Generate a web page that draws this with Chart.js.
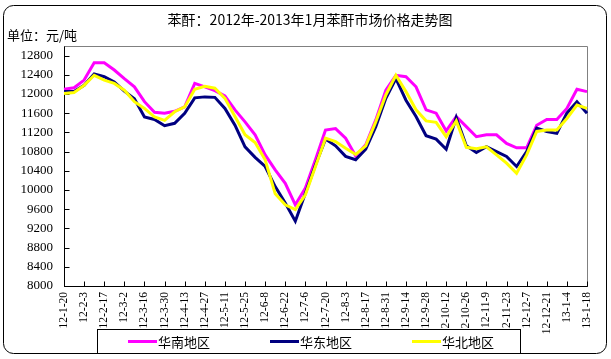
<!DOCTYPE html>
<html>
<head>
<meta charset="utf-8">
<script src="https://cdn.jsdelivr.net/npm/chart.js@4"></script>
<style>
  html, body { margin: 0; padding: 0; background: #fff; }
  #wrap { width: 611px; height: 359px; position: relative; }
</style>
</head>
<body>
<div id="wrap"><canvas id="chart"></canvas></div>
<script>
const title = '苯酐：2012年-2013年1月苯酐市场价格走势图';
const unitLabel = '单位：元/吨';

// weekly samples, labels shown every second week
const dates = ['12-1-20','12-1-27','12-2-3','12-2-10','12-2-17','12-2-24','12-3-2','12-3-9','12-3-16','12-3-23',
  '12-3-30','12-4-6','12-4-13','12-4-20','12-4-27','12-5-4','12-5-11','12-5-18','12-5-25','12-6-1',
  '12-6-8','12-6-15','12-6-22','12-6-29','12-7-6','12-7-13','12-7-20','12-7-27','12-8-3','12-8-10',
  '12-8-17','12-8-24','12-8-31','12-9-7','12-9-14','12-9-21','12-9-28','12-10-5','12-10-12','12-10-19',
  '12-10-26','12-11-2','12-11-9','12-11-16','12-11-23','12-11-30','12-12-7','12-12-14','12-12-21','12-12-28',
  '13-1-4','13-1-11','13-1-18'];

const seriesNames = ['华南地区', '华东地区', '华北地区'];
const seriesColors = ['#ff00ff', '#000080', '#ffff00'];

const south = [12100,12130,12290,12650,12650,12500,12320,12150,11840,11620,
  11600,11640,11730,12220,12150,12070,11960,11670,11420,11150,
  10730,10420,10140,9690,10040,10630,11250,11280,11080,10710,
  10940,11460,12080,12390,12360,12150,11670,11600,11230,11530,
  11320,11110,11150,11150,10970,10880,10880,11350,11470,11470,
  11700,12100,12050];
const east = [12050,12050,12180,12420,12360,12250,12060,11900,11520,11470,
  11340,11390,11600,11920,11940,11930,11700,11350,10900,10680,
  10490,10070,9730,9350,9930,10520,11060,10920,10700,10630,
  10850,11320,11910,12320,11870,11530,11130,11060,10850,11510,
  10920,10780,10900,10800,10700,10490,10800,11290,11220,11180,
  11600,11840,11600];
const north = [12010,12030,12180,12390,12290,12220,12080,11840,11700,11520,
  11450,11630,11730,12100,12160,12120,11910,11530,11150,10990,
  10630,9920,9690,9590,9900,10490,11080,11010,10870,10740,
  10920,11420,11980,12390,12050,11670,11440,11410,11110,11440,
  10890,10860,10900,10730,10560,10350,10730,11220,11250,11250,
  11490,11770,11700];

const yTicks = [8000,8400,8800,9200,9600,10000,10400,10800,11200,11600,12000,12400,12800];
const yMin = 8000, yMax = 13000;

const cjk = '"Noto Sans CJK SC", sans-serif';

// plot frame, inside tick marks, title, legend box and outer border
const decor = {
  id: 'decor',
  beforeDatasetsDraw(chart) {
    const { ctx, chartArea: a, scales: { x, y } } = chart;
    const L = Math.round(a.left) + 0.5, R = Math.round(a.right) + 0.5;
    const T = Math.round(a.top) + 0.5, B = Math.round(a.bottom) + 0.5;
    ctx.save();
    ctx.lineWidth = 1;
    ctx.strokeStyle = '#808080';
    ctx.beginPath();
    ctx.moveTo(L, T); ctx.lineTo(R, T); ctx.lineTo(R, B);
    ctx.stroke();
    ctx.strokeStyle = '#000';
    ctx.beginPath();
    y.ticks.forEach(t => {
      const py = Math.round(y.getPixelForValue(t.value)) + 0.5;
      ctx.moveTo(L, py); ctx.lineTo(L + 5, py);
    });
    x.ticks.forEach((t, i) => {
      if (i % 2) return;
      const px = Math.round(x.getPixelForValue(i)) + 0.5;
      ctx.moveTo(px, B); ctx.lineTo(px, B - 5);
    });
    ctx.stroke();
    ctx.restore();
  },
  afterDraw(chart) {
    const { ctx } = chart;
    ctx.save();
    ctx.fillStyle = '#000';
    ctx.textBaseline = 'middle';
    ctx.font = '14px ' + cjk;
    ctx.textAlign = 'center';
    ctx.fillText(title, 310, 20);
    ctx.font = '13px ' + cjk;
    ctx.textAlign = 'left';
    ctx.fillText(unitLabel, 7, 35);

    // legend box
    ctx.fillStyle = '#fff';
    ctx.fillRect(97.5, 329.5, 423, 24);
    ctx.strokeStyle = '#000';
    ctx.lineWidth = 1;
    ctx.strokeRect(97.5, 329.5, 423, 24);
    const items = [128, 270, 412];
    chart.data.datasets.forEach((ds, i) => {
      const lx = items[i];
      ctx.strokeStyle = ds.borderColor;
      ctx.lineWidth = 3;
      ctx.beginPath();
      ctx.moveTo(lx, 341.5); ctx.lineTo(lx + 29, 341.5);
      ctx.stroke();
      ctx.fillStyle = '#000';
      ctx.font = '13px ' + cjk;
      ctx.fillText(ds.label, lx + 30, 342);
    });

    // outer rounded border
    ctx.strokeStyle = '#000';
    ctx.lineWidth = 1;
    ctx.beginPath();
    ctx.roundRect(3.5, 5.5, 603, 348, 10);
    ctx.stroke();
    ctx.restore();
  }
};

new Chart(document.getElementById('chart'), {
  type: 'line',
  data: {
    labels: dates,
    datasets: [
      { label: seriesNames[0], data: south, borderColor: seriesColors[0], order: 3 },
      { label: seriesNames[1], data: east, borderColor: seriesColors[1], order: 2 },
      { label: seriesNames[2], data: north, borderColor: seriesColors[2], order: 1 },
    ],
  },
  options: {
    responsive: true,
    maintainAspectRatio: false,
    animation: false,
    layout: { padding: { left: 0, top: 46, right: 24, bottom: 0 } },
    elements: {
      line: { borderWidth: 3, tension: 0, fill: false },
      point: { radius: 0, hoverRadius: 0 },
    },
    plugins: {
      legend: { display: false },
      tooltip: { enabled: false },
      title: { display: false },
    },
    scales: {
      x: {
        grid: { display: false, drawTicks: false },
        border: { display: true, color: '#000', width: 1 },
        ticks: {
          autoSkip: false,
          maxRotation: 90,
          minRotation: 90,
          padding: 6,
          color: '#000',
          font: { family: '"Liberation Serif", serif', size: 11.5 },
          callback: (v, i) => (i % 2 === 0 ? dates[i] : ''),
        },
        afterFit(scale) { scale.height = 73; },
      },
      y: {
        min: yMin,
        max: yMax,
        grid: { display: false, drawTicks: false },
        border: { display: true, color: '#000', width: 1 },
        ticks: {
          padding: 11,
          color: '#000',
          font: { family: '"Liberation Serif", serif', size: 13 },
          callback: v => String(v),
        },
        afterBuildTicks(scale) { scale.ticks = yTicks.map(v => ({ value: v })); },
        afterFit(scale) { scale.width = 64; },
      },
    },
  },
  plugins: [decor],
});
</script>
</body>
</html>
